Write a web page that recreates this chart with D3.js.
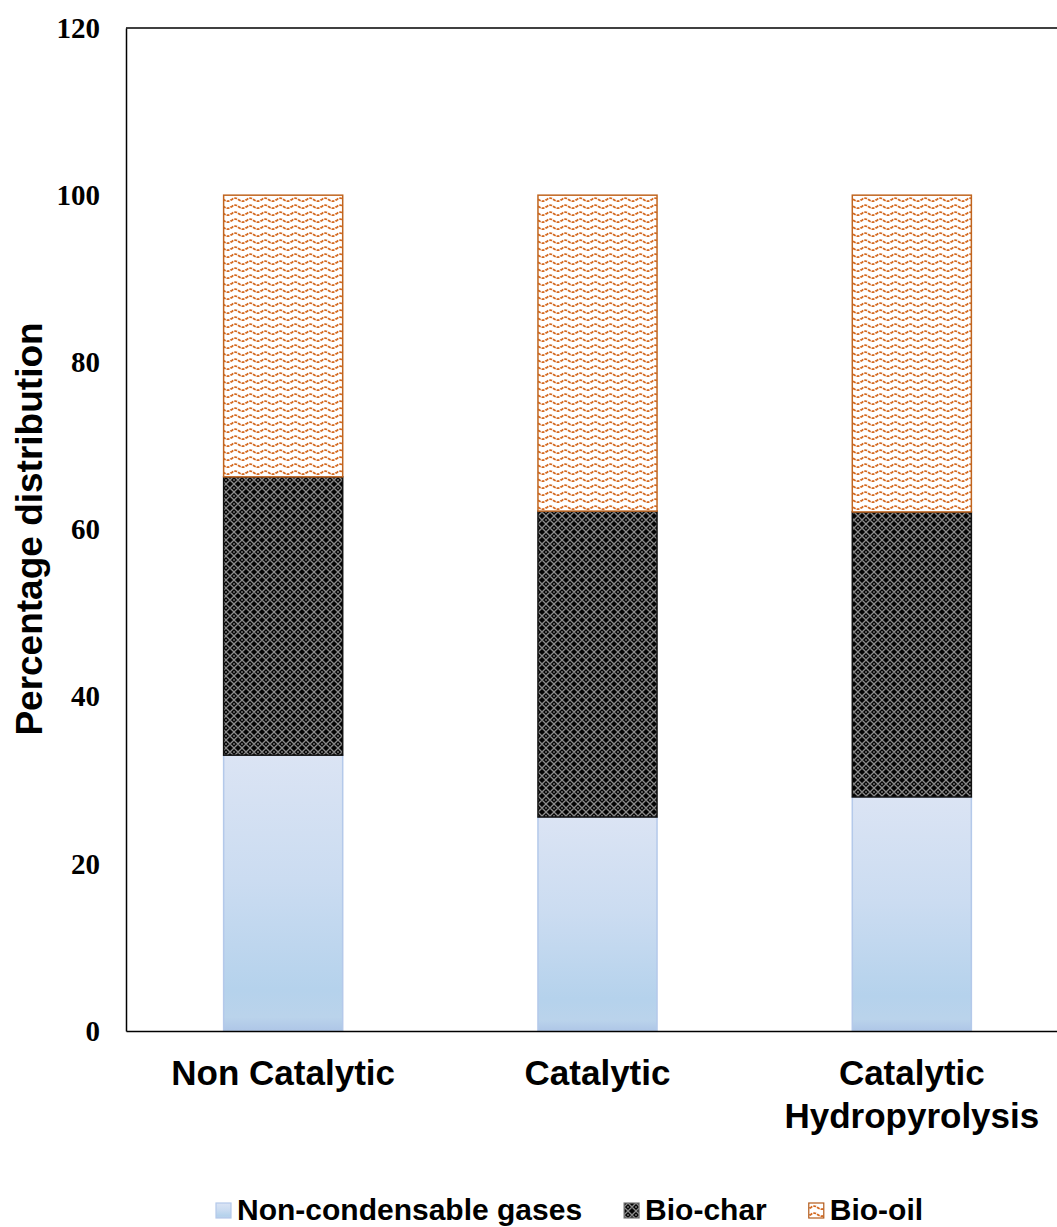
<!DOCTYPE html>
<html>
<head>
<meta charset="utf-8">
<script src="https://cdn.jsdelivr.net/npm/d3@7"></script>
<style>
  html, body { margin: 0; padding: 0; background: #fff; overflow: hidden; }
  svg { display: block; }
</style>
</head>
<body>
<svg id="chart" width="1057" height="1227"></svg>
<script>
// Product distribution of pyrolysis modes (percent)
const categories = ["Non Catalytic", "Catalytic", "Catalytic\nHydropyrolysis"];
const gases = [33.0, 25.6, 28.0];
const biochar = [33.3, 36.6, 34.1];
const biooil = [33.7, 37.8, 37.9];
const seriesNames = ["Non-condensable gases", "Bio-char", "Bio-oil"];
const yTicks = [0, 20, 40, 60, 80, 100, 120];

const svg = d3.select("#chart");
const margin = { left: 126, top: 28, right: -12, bottom: 196 };
const W = 1057 - margin.left - margin.right;
const H = 1227 - margin.top - margin.bottom;
const sans = "'Liberation Sans', Arial, sans-serif";

const defs = svg.append("defs");

// light blue gradient for the gas segment
const grad = defs.append("linearGradient").attr("id", "gasGrad")
  .attr("x1", 0).attr("y1", 0).attr("x2", 0).attr("y2", 1);
[[0, "#dbe4f4"], [0.45, "#cbdcf1"], [0.85, "#b5d2ec"], [0.95, "#bad3eb"], [1, "#aec6e7"]]
  .forEach(([o, c]) => grad.append("stop").attr("offset", o).attr("stop-color", c));

// dark lattice pattern for char
const pc = defs.append("pattern").attr("id", "charPat")
  .attr("patternUnits", "userSpaceOnUse").attr("width", 8).attr("height", 8);
pc.append("rect").attr("width", 8).attr("height", 8).attr("fill", "#050505");
pc.append("path").attr("d", "M0,4 L4,0 L8,4 L4,8 Z")
  .attr("fill", "none").attr("stroke", "#8c8c8c").attr("stroke-width", 1.3);
pc.append("rect").attr("x", 3.4).attr("y", 3.4).attr("width", 1.2).attr("height", 1.2).attr("fill", "#f0f0f0");
pc.append("rect").attr("x", -0.6).attr("y", -0.6).attr("width", 1.2).attr("height", 1.2).attr("fill", "#000");
pc.append("rect").attr("x", 7.4).attr("y", 7.4).attr("width", 1.2).attr("height", 1.2).attr("fill", "#000");

// orange wave pattern for oil
const po = defs.append("pattern").attr("id", "oilPat")
  .attr("patternUnits", "userSpaceOnUse").attr("width", 15).attr("height", 7);
po.append("rect").attr("width", 15).attr("height", 7).attr("fill", "#ffffff");
po.append("path").attr("d", "M0,4.5 C2.5,1.5 5,1.5 7.5,3.5 S12.5,6 15,3.5")
  .attr("fill", "none").attr("stroke", "#d4691f").attr("stroke-width", 1.7)
  .attr("stroke-dasharray", "3 1");

const fills = ["url(#gasGrad)", "url(#charPat)", "url(#oilPat)"];
const strokes = ["#b4c9ea", "#111111", "#c0651f"];

const g = svg.append("g").attr("transform", `translate(${margin.left},${margin.top})`);

const x = d3.scaleBand().domain(categories).range([0, W])
  .paddingInner(0.618).paddingOuter(0.309);
const y = d3.scaleLinear().domain([0, 120]).range([H, 0]);

// stacked segments
const rows = categories.map((c, i) => ({ cat: c, s0: gases[i], s1: biochar[i], s2: biooil[i] }));
const stack = d3.stack().keys(["s0", "s1", "s2"])(rows);

stack.forEach((layer, li) => {
  g.append("g").selectAll("rect").data(layer).join("rect")
    .attr("x", d => x(d.data.cat) + 0.5)
    .attr("width", x.bandwidth() - 1)
    .attr("y", d => y(d[1]))
    .attr("height", d => y(d[0]) - y(d[1]))
    .attr("fill", fills[li])
    .attr("stroke", strokes[li])
    .attr("stroke-width", 1.5);
});

// frame: top and right edges
g.append("line").attr("x1", 0).attr("x2", W).attr("y1", 0).attr("y2", 0)
  .attr("stroke", "#000").attr("stroke-width", 1.5);
g.append("line").attr("x1", W).attr("x2", W).attr("y1", 0).attr("y2", H)
  .attr("stroke", "#000").attr("stroke-width", 1.5);

// y axis
const yAxis = g.append("g").call(d3.axisLeft(y).tickValues(yTicks).tickSize(0).tickPadding(26));
yAxis.select(".domain").attr("stroke", "#000").attr("stroke-width", 1.5);
yAxis.selectAll("text")
  .attr("font-family", "'Liberation Serif', 'Times New Roman', serif")
  .attr("font-weight", "bold").attr("font-size", 29).attr("fill", "#000");

// x axis
const xAxis = g.append("g").attr("transform", `translate(0,${H})`)
  .call(d3.axisBottom(x).tickSize(0).tickFormat(""));
xAxis.select(".domain").attr("stroke", "#000").attr("stroke-width", 1.5);
xAxis.selectAll(".tick").each(function(d) {
  const t = d3.select(this).append("text")
    .attr("text-anchor", "middle")
    .attr("font-family", sans)
    .attr("font-weight", "bold").attr("font-size", 35).attr("fill", "#000");
  d.split("\n").forEach((line, i) => {
    t.append("tspan").attr("x", 0).attr("y", 54 + i * 43).text(line);
  });
});

// y axis title
svg.append("text")
  .attr("transform", `translate(42,529) rotate(-90)`)
  .attr("text-anchor", "middle")
  .attr("font-family", sans)
  .attr("font-weight", "bold").attr("font-size", 37).attr("fill", "#000")
  .text("Percentage distribution");

// legend, laid out left to right
const legendItems = [
  { name: seriesNames[0], fill: fills[0], stroke: "#b4c9ea" },
  { name: seriesNames[1], fill: fills[1], stroke: "#777" },
  { name: seriesNames[2], fill: fills[2], stroke: "#b35a1a" }
];
const lg = svg.append("g").attr("transform", "translate(0,1211)");
let lx = 216;
legendItems.forEach(it => {
  lg.append("rect").attr("x", lx).attr("y", -8).attr("width", 15).attr("height", 15)
    .attr("fill", it.fill).attr("stroke", it.stroke).attr("stroke-width", 1.2);
  const t = lg.append("text").attr("x", lx + 21).attr("y", 9)
    .attr("font-family", sans)
    .attr("font-weight", "bold").attr("font-size", 30).attr("fill", "#000")
    .text(it.name);
  lx += 21 + t.node().getComputedTextLength() + 42;
});
</script>
</body>
</html>
